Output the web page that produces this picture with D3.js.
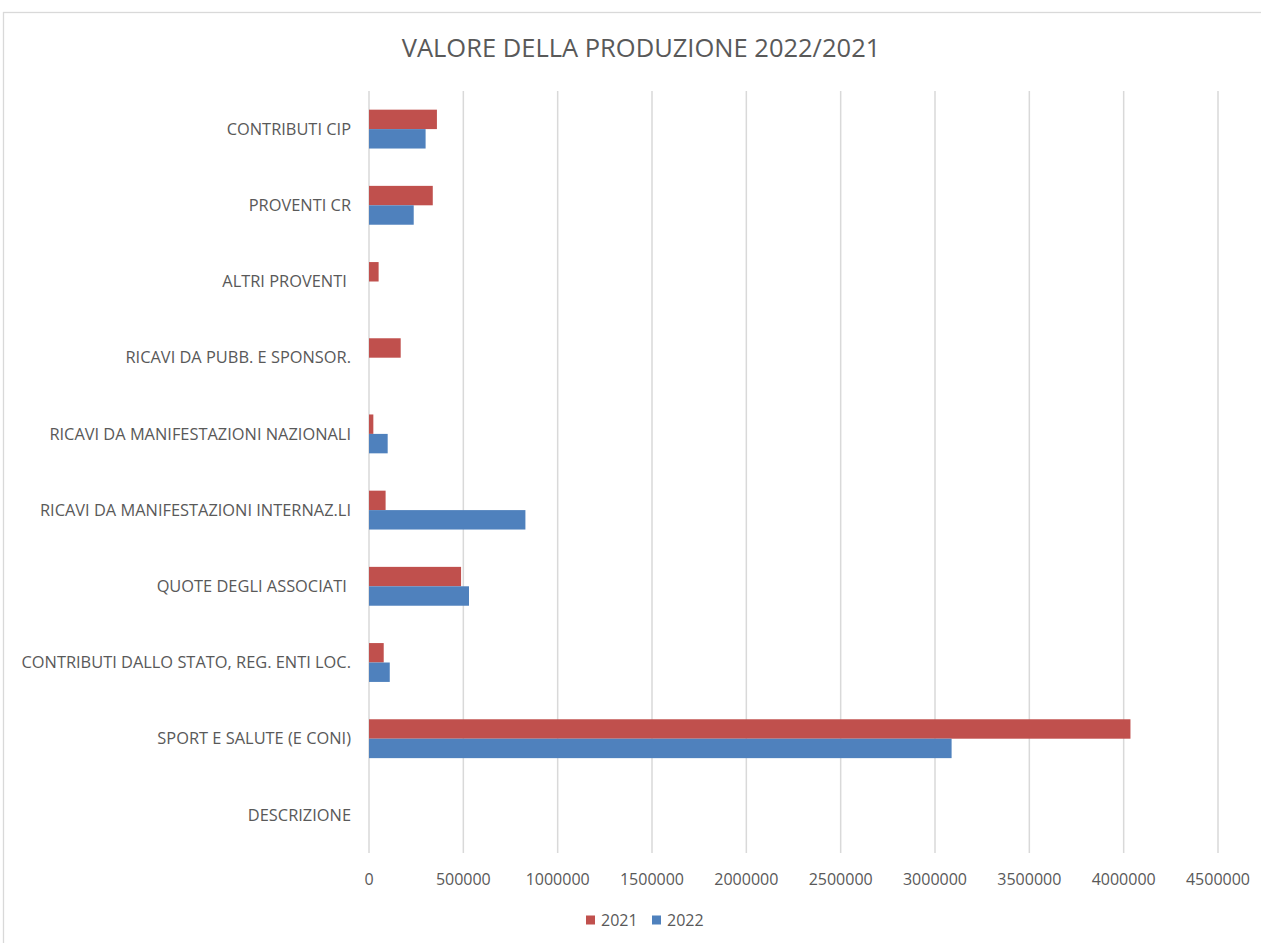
<!DOCTYPE html>
<html>
<head>
<meta charset="utf-8">
<script src="https://cdn.jsdelivr.net/npm/d3@7"></script>
<style>
	body { margin: 0; background: #fff; }
	text { font-family: "Open Sans", "Noto Sans", sans-serif; fill: #595959; white-space: pre; }
</style>
</head>
<body>
<div id="chart"></div>
<script>
// categories top to bottom, as in the picture
var categories = ["CONTRIBUTI CIP", "PROVENTI CR", "ALTRI PROVENTI ", "RICAVI DA PUBB. E SPONSOR.",
	"RICAVI DA MANIFESTAZIONI NAZIONALI", "RICAVI DA MANIFESTAZIONI INTERNAZ.LI", "QUOTE DEGLI ASSOCIATI ",
	"CONTRIBUTI DALLO STATO, REG. ENTI LOC.", "SPORT E SALUTE (E CONI)", "DESCRIZIONE"];
var values2021 = [360000, 338000, 51000, 168000, 23000, 88000, 488000, 78000, 4036000, 0];
var values2022 = [300000, 237000, 0, 0, 99000, 829000, 530000, 110000, 3088000, 0];
var seriesNames = ["2021", "2022"];
var seriesColors = ["#C0504D", "#4F81BD"];
var xTicks = [0, 500000, 1000000, 1500000, 2000000, 2500000, 3000000, 3500000, 4000000, 4500000];

var width = 1261, height = 943;

var svg = d3.select("#chart").append("svg")
	.attr("width", width)
	.attr("height", height);

// chart frame
svg.append("rect")
	.attr("x", 3.5).attr("y", 12.5)
	.attr("width", width + 10).attr("height", height + 10)
	.attr("fill", "#fff").attr("stroke", "#D9D9D9").attr("stroke-width", 1.3);

var x = d3.scaleLinear()
	.domain([0, 4500000])
	.range([369, 1218]);

var y = d3.scaleBand()
	.domain(categories)
	.range([91, 853])
	.paddingInner(0.49)
	.paddingOuter(0.245);

var ySub = d3.scaleBand()
	.domain(seriesNames)
	.range([0, y.bandwidth()]);

// gridlines
svg.append("g")
	.selectAll("line")
	.data(xTicks)
	.enter()
	.append("line")
	.attr("x1", function(d) { return x(d); })
	.attr("x2", function(d) { return x(d); })
	.attr("y1", 91)
	.attr("y2", 853)
	.attr("stroke", "#D9D9D9")
	.attr("stroke-width", 1.5);

// x tick labels
svg.append("g")
	.selectAll("text")
	.data(xTicks)
	.enter()
	.append("text")
	.attr("x", function(d) { return x(d); })
	.attr("y", 879)
	.attr("dy", ".35em")
	.attr("text-anchor", "middle")
	.style("font-size", "16px")
	.text(function(d) { return d; });

// category labels
svg.append("g")
	.selectAll("text")
	.data(categories)
	.enter()
	.append("text")
	.attr("x", 351)
	.attr("y", function(d) { return y(d) + y.bandwidth() / 2; })
	.attr("dy", ".35em")
	.attr("text-anchor", "end")
	.style("font-size", "16.4px")
	.text(function(d) { return d; });

// bars
var series = [values2021, values2022];
series.forEach(function(vals, s)
{
	svg.append("g")
		.selectAll("rect")
		.data(vals)
		.enter()
		.append("rect")
		.attr("x", x(0))
		.attr("y", function(d, i) { return y(categories[i]) + ySub(seriesNames[s]); })
		.attr("width", function(d) { return x(d) - x(0); })
		.attr("height", ySub.bandwidth())
		.attr("fill", seriesColors[s]);
});

// title
svg.append("text")
	.attr("x", 641)
	.attr("y", 48)
	.attr("dy", ".35em")
	.attr("text-anchor", "middle")
	.style("font-size", "25.5px")
	.text("VALORE DELLA PRODUZIONE 2022/2021");

// legend
var legendX = [586, 652];
var lg = svg.append("g")
	.selectAll("g")
	.data(seriesNames)
	.enter()
	.append("g")
	.attr("transform", function(d, i) { return "translate(" + legendX[i] + ",920)"; });

lg.append("rect")
	.attr("x", 0).attr("y", -4.5)
	.attr("width", 9).attr("height", 9)
	.attr("fill", function(d, i) { return seriesColors[i]; });

lg.append("text")
	.attr("x", 15)
	.attr("dy", ".35em")
	.style("font-size", "16px")
	.text(function(d) { return d; });
</script>
</body>
</html>
